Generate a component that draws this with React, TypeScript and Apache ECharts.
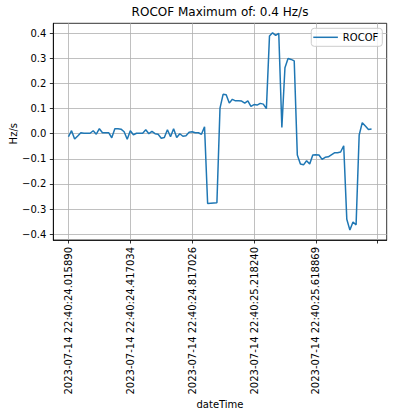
import React, { useEffect, useRef } from "react";
import * as echarts from "echarts";

const titleText = "ROCOF Maximum of: 0.4 Hz/s";
const seriesName = "ROCOF";
const xAxisTitle = "dateTime";
const yAxisTitle = "Hz/s";

const rocof = [
  -0.012, 0.012, -0.021, -0.009, 0.004, 0.002, 0.002, 0.002, 0.012, -0.002,
  0.02, 0.004, 0.004, 0.004, -0.016, 0.02, 0.02, 0.018, 0.008, -0.022,
  0.012, -0.004, 0.002, 0.002, 0.002, 0.016, 0.0, 0.009, 0.0, -0.002,
  -0.018, -0.015, 0.016, -0.012, 0.02, -0.015, 0.0, -0.01, -0.008, 0.006,
  0.008, 0.004, 0.004, -0.002, 0.028, -0.278, -0.277, -0.276, -0.275, 0.102,
  0.157, 0.155, 0.122, 0.137, 0.131, 0.131, 0.13, 0.122, 0.131, 0.109,
  0.116, 0.114, 0.121, 0.118, 0.1, 0.389, 0.402, 0.392, 0.4, 0.025,
  0.263, 0.3, 0.296, 0.29, -0.085, -0.121, -0.124, -0.108, -0.121, -0.085,
  -0.084, -0.085, -0.102, -0.094, -0.092, -0.084, -0.076, -0.076, -0.073, -0.048,
  -0.341, -0.384, -0.352, -0.363, -0.005, 0.044, 0.031, 0.017, 0.019,
];

const xTickPositions = [0, 20, 40, 60, 80, 100];
const xTickLabels = [
  "2023-07-14 22:40:24.015890",
  "2023-07-14 22:40:24.417034",
  "2023-07-14 22:40:24.817026",
  "2023-07-14 22:40:25.218240",
  "2023-07-14 22:40:25.618869",
  "",
];
const yTicks = [-0.4, -0.3, -0.2, -0.1, 0, 0.1, 0.2, 0.3, 0.4];

const FONT = "DejaVu Sans";

export default function App() {
  const ref = useRef<HTMLDivElement>(null);
  useEffect(() => {
    if (!ref.current) return;
    const chart = echarts.init(ref.current, undefined, { renderer: "svg" });
    const gridLeft = 53.3;
    const gridTop = 23.3;
    const gridWidth = 333.4;
    const gridHeight = 216.7;
    chart.setOption({
      animation: false,
      backgroundColor: "#ffffff",
      grid: {
        left: gridLeft,
        top: gridTop,
        width: gridWidth,
        height: gridHeight,
        show: true,
        borderColor: "#000000",
        borderWidth: 0.8,
        containLabel: false,
      },
      legend: {
        right: 11.7,
        top: 28.3,
        padding: [3, 4, 3, 2],
        itemWidth: 24.6,
        itemHeight: 1.5,
        icon: "rect",
        borderColor: "#cccccc",
        borderWidth: 1,
        borderRadius: 3,
        backgroundColor: "rgba(255,255,255,0.8)",
        textStyle: { fontFamily: FONT, fontSize: 10, color: "#000000", lineHeight: 12 },
        data: [{ name: seriesName, icon: "rect" }],
      },
      graphic: [
        {
          type: "text",
          x: gridLeft + gridWidth / 2,
          y: 12,
          style: {
            text: titleText,
            fontFamily: FONT,
            fontSize: 12,
            fill: "#000000",
            align: "center",
            verticalAlign: "middle",
          },
        },
        {
          type: "text",
          x: gridLeft + gridWidth / 2,
          y: 404,
          style: {
            text: xAxisTitle,
            fontFamily: FONT,
            fontSize: 10,
            fill: "#000000",
            align: "center",
            verticalAlign: "middle",
          },
        },
        {
          type: "text",
          x: 13,
          y: gridTop + gridHeight * (0.44 / 0.8635),
          rotation: Math.PI / 2,
          style: {
            text: yAxisTitle,
            fontFamily: FONT,
            fontSize: 10,
            fill: "#000000",
            align: "center",
            verticalAlign: "middle",
          },
        },
      ],
      xAxis: {
        type: "value",
        min: -4.9,
        max: 102.9,
        axisLine: { show: true, onZero: false, lineStyle: { color: "#000000", width: 0.8 } },
        axisTick: {
          show: true,
          inside: false,
          length: 3.5,
          lineStyle: { color: "#000000", width: 0.8 },
          customValues: xTickPositions,
        },
        axisLabel: {
          show: true,
          rotate: 90,
          margin: 7,
          fontFamily: FONT,
          fontSize: 10,
          color: "#000000",
          customValues: xTickPositions,
          formatter: (v: number) => {
            const idx = xTickPositions.indexOf(Math.round(v));
            return idx >= 0 ? xTickLabels[idx] : "";
          },
        },
        splitLine: { show: true, lineStyle: { color: "#b0b0b0", width: 0.8 } },
      },
      yAxis: {
        type: "value",
        min: -0.4235,
        max: 0.44,
        axisLine: { show: true, onZero: false, lineStyle: { color: "#000000", width: 0.8 } },
        axisTick: {
          show: true,
          inside: false,
          length: 3.5,
          lineStyle: { color: "#000000", width: 0.8 },
          customValues: yTicks,
        },
        axisLabel: {
          show: true,
          margin: 7,
          fontFamily: FONT,
          fontSize: 10,
          color: "#000000",
          customValues: yTicks,
          formatter: (v: number) => {
            const r = Math.round(v * 10) / 10;
            return (r < 0 ? "\u2212" : "") + Math.abs(r).toFixed(1);
          },
        },
        splitLine: { show: true, lineStyle: { color: "#b0b0b0", width: 0.8 } },
      },
      series: [
        {
          name: seriesName,
          type: "line",
          data: rocof.map((v, i) => [i, v]),
          symbol: "none",
          lineStyle: { color: "#1f77b4", width: 1.5 },
          itemStyle: { color: "#1f77b4" },
        },
      ],
    });
    return () => chart.dispose();
  }, []);
  return (
    <div
      ref={ref}
      style={{ position: "fixed", left: 0, top: 0, width: 394, height: 416 }}
    />
  );
}
